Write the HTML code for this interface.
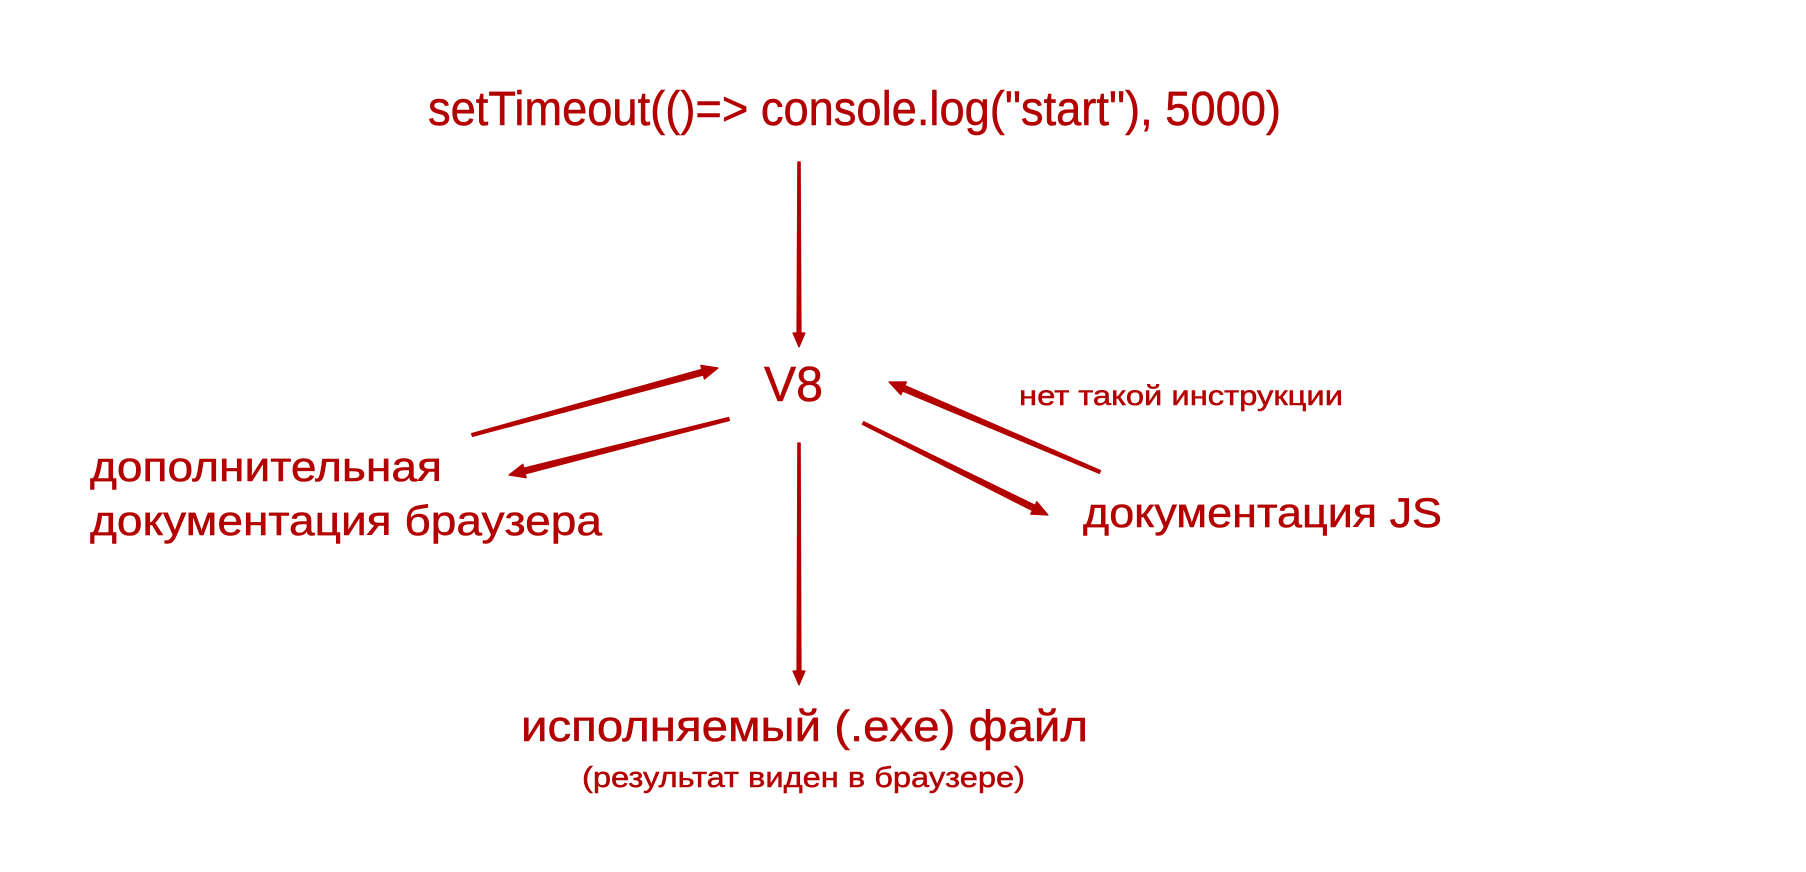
<!DOCTYPE html>
<html><head><meta charset="utf-8"><style>
html,body{margin:0;padding:0;background:#fff;}
svg{display:block}
text{font-family:"Liberation Sans",Arial,sans-serif;fill:#b30000;stroke:#b30000;stroke-width:0.5;}
</style></head><body>
<svg width="1806" height="872" viewBox="0 0 1806 872">
<g fill="#b30000" stroke="#b30000" stroke-width="1.2" stroke-linejoin="round">
<polygon points="797.8,162 800.2,162 801,333 805,333 799,347 793,333 797,333"/>
<polygon points="797.8,443 800.2,443 801,671 805,671 799,685 793,671 797,671"/>
<polygon points="471.6,433.6 701.8,369.3 700.8,365.4 718,368 704.4,379.0 703.4,375.1 472.4,436.4"/>
<polygon points="728.6,417.5 523.8,468.1 522.8,464.2 509,475 526.2,477.8 525.2,473.9 729.4,420.5"/>
<polygon points="1100.6,470.6 904.9,385.5 906.5,381.9 889,382 900.9,394.8 902.5,391.1 1099.4,473.4"/>
<polygon points="863.7,421.7 1035.0,505.2 1036.8,501.6 1048,515 1030.6,514.2 1032.4,510.6 862.3,424.3"/>
</g>
<text x="428" y="125" font-size="48" textLength="853" lengthAdjust="spacingAndGlyphs">setTimeout(()=&gt; console.log("start"), 5000)</text>
<text x="764" y="401" font-size="49" textLength="59" lengthAdjust="spacingAndGlyphs">V8</text>
<text x="1019" y="405" font-size="28" textLength="324" lengthAdjust="spacingAndGlyphs">нет такой инструкции</text>
<text x="90" y="481" font-size="42" textLength="352" lengthAdjust="spacingAndGlyphs">дополнительная</text>
<text x="90" y="535" font-size="42" textLength="512" lengthAdjust="spacingAndGlyphs">документация браузера</text>
<text x="1083" y="527" font-size="42" textLength="359" lengthAdjust="spacingAndGlyphs">документация JS</text>
<text x="521" y="741" font-size="44" textLength="567" lengthAdjust="spacingAndGlyphs">исполняемый (.exe) файл</text>
<text x="582" y="787" font-size="29" textLength="443" lengthAdjust="spacingAndGlyphs">(результат виден в браузере)</text>
</svg>
</body></html>
